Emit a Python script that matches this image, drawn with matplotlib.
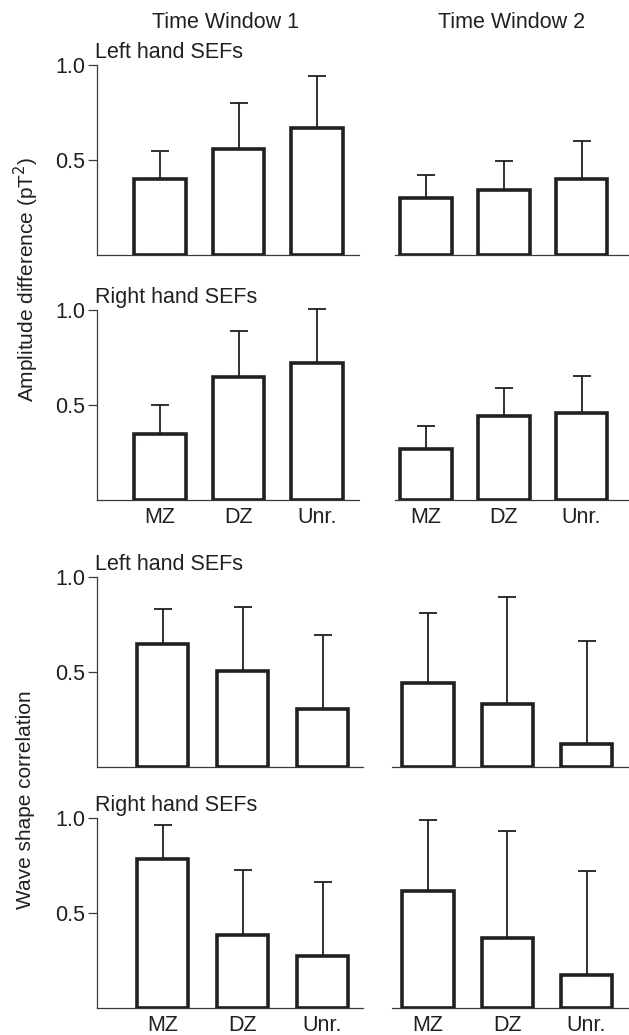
import numpy as np
import matplotlib
matplotlib.use('Agg')
import matplotlib.pyplot as plt

plt.rcParams['font.family'] = ['Liberation Sans', 'DejaVu Sans']

groups = ['MZ', 'DZ', 'Unr.']

# amplitude difference, left / right hand SEFs, time window 1 / 2
amp_left_tw1 = [0.40, 0.56, 0.67]
amp_left_tw1_err = [0.15, 0.24, 0.27]
amp_left_tw2 = [0.30, 0.34, 0.40]
amp_left_tw2_err = [0.12, 0.155, 0.20]
amp_right_tw1 = [0.35, 0.65, 0.72]
amp_right_tw1_err = [0.15, 0.24, 0.285]
amp_right_tw2 = [0.27, 0.44, 0.46]
amp_right_tw2_err = [0.12, 0.15, 0.195]

# wave shape correlation
cor_left_tw1 = [0.65, 0.505, 0.305]
cor_left_tw1_err = [0.18, 0.335, 0.39]
cor_left_tw2 = [0.44, 0.33, 0.12]
cor_left_tw2_err = [0.37, 0.565, 0.545]
cor_right_tw1 = [0.785, 0.385, 0.275]
cor_right_tw1_err = [0.18, 0.34, 0.39]
cor_right_tw2 = [0.615, 0.37, 0.175]
cor_right_tw2_err = [0.375, 0.56, 0.545]

rows = [
    ('Left hand SEFs', amp_left_tw1, amp_left_tw1_err, amp_left_tw2, amp_left_tw2_err),
    ('Right hand SEFs', amp_right_tw1, amp_right_tw1_err, amp_right_tw2, amp_right_tw2_err),
    ('Left hand SEFs', cor_left_tw1, cor_left_tw1_err, cor_left_tw2, cor_left_tw2_err),
    ('Right hand SEFs', cor_right_tw1, cor_right_tw1_err, cor_right_tw2, cor_right_tw2_err),
]

W, H = 629, 1035
fig = plt.figure(figsize=(W / 100, H / 100), dpi=100)

baselines = [255, 500, 767, 1008]
unit_y = 190.0
ytop = 1.1
# (left px, right px, first bar centre px, bar spacing px) per column, per row pair
xlay = {
    0: [(97, 359, 160, 78.5), (395, 628, 426, 77.75)],
    1: [(97, 363, 162.5, 80.0), (392, 628, 428, 79.3)],
}
ink = '#231f20'
axc = '#3a3a3a'
fs = 15.5

for r, (hand, m1, e1, m2, e2) in enumerate(rows):
    yb = baselines[r]
    for c, (means, errs) in enumerate([(m1, e1), (m2, e2)]):
        lpx, rpx, c0, sp = xlay[r // 2][c]
        ax = fig.add_axes([lpx / W, (H - yb) / H, (rpx - lpx) / W, unit_y * ytop / H])
        x = np.arange(len(groups))
        ax.errorbar(x, means, yerr=[np.zeros(3), errs], fmt='none', ecolor=ink,
                    elinewidth=1.3, capsize=6.2, capthick=1.3, zorder=2, clip_on=False)
        ax.bar(x, means, width=51.5 / sp, color='white', edgecolor=ink,
               linewidth=2.6, zorder=3)
        ax.set_xlim((lpx - c0) / sp, (rpx - c0) / sp)
        ax.set_ylim(0, ytop)
        ax.patch.set_visible(False)
        for s in ['top', 'right']:
            ax.spines[s].set_visible(False)
        ax.spines['bottom'].set_color(axc)
        ax.spines['bottom'].set_linewidth(0.9)
        if c == 0:
            ax.spines['left'].set_bounds(0, 1.0)
            ax.spines['left'].set_color(axc)
            ax.spines['left'].set_linewidth(0.9)
            ax.set_yticks([0.5, 1.0])
            ax.set_yticklabels(['0.5', '1.0'])
            ax.tick_params(axis='y', length=6.5, width=0.9, color=axc, pad=2,
                           labelsize=fs, labelcolor=ink)
        else:
            ax.spines['left'].set_visible(False)
            ax.set_yticks([])
        if r in (1, 3):
            ax.set_xticks(x)
            ax.set_xticklabels(groups)
            ax.tick_params(axis='x', length=0, pad=5, labelsize=fs, labelcolor=ink)
        else:
            ax.set_xticks([])
    fig.text(95 / W, 1 - (baselines[r] - 203) / H, hand, fontsize=fs, color=ink,
             ha='left', va='center')

fig.text(226 / W, 1 - 22 / H, 'Time Window 1', fontsize=fs, color=ink, ha='center', va='center')
fig.text(512 / W, 1 - 22 / H, 'Time Window 2', fontsize=fs, color=ink, ha='center', va='center')
fig.text(26 / W, 1 - 279 / H, 'Amplitude difference (pT$^2$)', fontsize=15, color=ink,
         rotation=90, ha='center', va='center')
fig.text(26 / W, 1 - 800 / H, 'Wave shape correlation', fontsize=15, color=ink,
         rotation=90, ha='center', va='center')

fig.savefig('out.png', dpi=100)
